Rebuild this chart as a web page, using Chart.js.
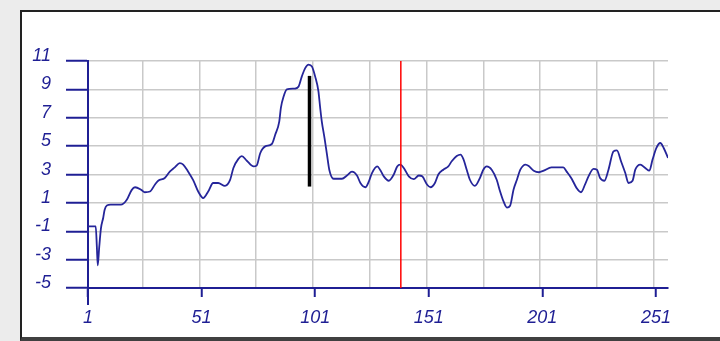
<!DOCTYPE html>
<html>
<head>
<meta charset="utf-8">
<script src="https://cdn.jsdelivr.net/npm/chart.js@4.4.1/dist/chart.umd.min.js"></script>
<style>
  html, body { margin: 0; padding: 0; background: #ececec; overflow: hidden; width: 720px; height: 341px; }
  #frame {
    position: absolute; left: 20px; top: 10px; width: 780px; height: 325px;
    background: #fff; border-left: 2px solid #222; border-top: 2px solid #222;
    border-bottom: 4px solid #404040;
  }
  #chart { position: absolute; left: 0; top: 0; }
</style>
</head>
<body>
<div id="frame"></div>
<canvas id="chart" width="720" height="341"></canvas>
<script>
// series (x = sample index, y = value)
const seriesX = [1, 4.4, 4.9, 5.3, 5.9, 6.7, 7.7, 8.3, 9.3, 11, 15.5, 18, 20.2, 21.7, 24.6, 26, 28.3, 30.5, 31.9, 34.8,
  37, 39.2, 41.4, 42.9, 45.1, 47.3, 49.5, 51.7, 53.9, 56.1, 58.3, 61.3, 63.5, 65, 67.2, 68.7, 70.9, 73.9, 75.3, 76.8,
  79, 81.9, 83.4, 85.2, 85.9, 87.1, 88.5, 92.2, 93.7, 95.1, 96.6, 98.1, 99.6, 101, 102.4, 103.2, 103.9, 105.1, 106.2, 107.2,
  109.1, 112.8, 115, 117.2, 119.4, 120.9, 123.1, 124.6, 126, 128.3, 129.7, 131.2, 133.4, 135.6, 137.1, 138.5, 140, 142.2, 144.4, 146.6,
  148.1, 150.3, 151.8, 153.7, 155.2, 157.4, 159.6, 161.1, 163.3, 165, 166.2, 167.7, 169.1, 171.3, 173.5, 175, 176.5, 178.7, 180.9, 182.4,
  183.9, 185.4, 186.8, 188.3, 189.8, 191.3, 193.6, 195, 197.2, 199.4, 201.6, 205, 210.2, 211.7, 213.9, 216.1, 218, 219.8, 221.3, 223.5,
  225, 226.4, 228.3, 230.1, 232.3, 233.8, 235.7, 237.5, 238.9, 240.7, 241.9, 244.1, 246.3, 248.1, 249.5, 251.2, 252.9, 254.4, 256.3];
const seriesY = [-0.65, -0.65, -2.1, -3.4, -2.2, -0.8, -0.05, 0.5, 0.82, 0.87, 0.87, 1.2, 1.9, 2.1, 1.9, 1.75, 1.8, 2.3, 2.56, 2.75,
  3.2, 3.5, 3.8, 3.7, 3.2, 2.6, 1.8, 1.34, 1.8, 2.4, 2.4, 2.2, 2.6, 3.46, 4.1, 4.3, 3.97, 3.57, 3.65, 4.5,
  4.98, 5.15, 5.8, 6.75, 7.7, 8.5, 9.0, 9.06, 9.2, 9.9, 10.5, 10.75, 10.6, 9.9, 8.9, 7.7, 6.75, 5.58, 4.4, 3.34,
  2.7, 2.7, 2.93, 3.2, 2.93, 2.4, 2.1, 2.5, 3.1, 3.57, 3.3, 2.87, 2.56, 3.0, 3.57, 3.7, 3.46, 2.87, 2.67, 2.93,
  2.87, 2.28, 2.1, 2.4, 3.0, 3.34, 3.57, 3.93, 4.3, 4.4, 4.1, 3.34, 2.63, 2.2, 2.75, 3.34, 3.57, 3.34, 2.63, 1.8,
  1.1, 0.67, 0.8, 1.93, 2.63, 3.34, 3.7, 3.6, 3.27, 3.16, 3.27, 3.5, 3.5, 3.2, 2.7, 2.04, 1.75, 2.3, 2.87, 3.4,
  3.34, 2.75, 2.56, 3.34, 4.63, 4.7, 3.9, 3.1, 2.4, 2.56, 3.34, 3.7, 3.46, 3.27, 4.05, 4.87, 5.22, 4.87, 4.17];

// black marker bar and red cursor line
const barX = 98.5;
const barY = [2.15, 9.95];
const cursorX = 138.7;

// axes
const xLabels = [1, 51, 101, 151, 201, 251];
const xGrid = [25, 50, 75, 100, 125, 150, 175, 200, 225, 250];
const yTicks = [-5, -3, -1, 1, 3, 5, 7, 9, 11];
const xMin = 1, xMax = 256.3, yMin = -5, yMax = 11;

const blue = "#1f1f94";
const gridGray = "#c9c9c9";
const tickFont = { family: "'Liberation Sans', Arial, sans-serif", size: 18, style: "italic" };

const xTickValues = xLabels.concat(xGrid).sort((a, b) => a - b);

// extends the y axis line below the x axis, like the original
const axisFoot = {
  id: "axisFoot",
  afterDraw(chart) {
    const { ctx, scales } = chart;
    const px = scales.x.getPixelForValue(xMin);
    const py = scales.y.getPixelForValue(yMin);
    ctx.save();
    ctx.strokeStyle = blue;
    ctx.lineWidth = 2;
    ctx.beginPath();
    ctx.moveTo(px, py);
    ctx.lineTo(px, py + 17);
    ctx.stroke();
    ctx.restore();
  }
};

new Chart(document.getElementById("chart"), {
  type: "line",
  data: {
    datasets: [
      {
        data: barY.map(v => ({ x: barX, y: v })),
        borderColor: "#000",
        borderWidth: 3.5,
        pointRadius: 0
      },
      {
        data: [{ x: cursorX, y: yMin }, { x: cursorX, y: yMax }],
        borderColor: "#ff0000",
        borderWidth: 1.5,
        pointRadius: 0
      },
      {
        data: seriesX.map((x, i) => ({ x: x, y: seriesY[i] })),
        borderColor: "#25259a",
        borderWidth: 1.8,
        pointRadius: 0,
        cubicInterpolationMode: "monotone"
      }
    ]
  },
  options: {
    responsive: false,
    animation: false,
    devicePixelRatio: 1,
    layout: { padding: { left: 0, top: 61, right: 52, bottom: 0 } },
    plugins: { legend: { display: false }, tooltip: { enabled: false } },
    scales: {
      x: {
        type: "linear",
        min: xMin,
        max: xMax,
        afterBuildTicks: (scale) => { scale.ticks = xTickValues.map(v => ({ value: v })); },
        afterFit: (scale) => { scale.height = 53; },
        ticks: {
          autoSkip: false,
          maxRotation: 0,
          minRotation: 0,
          padding: 10,
          color: blue,
          font: tickFont,
          callback: (v) => xLabels.includes(v) ? String(v) : ""
        },
        grid: {
          color: (c) => xGrid.includes(c.tick && c.tick.value) ? gridGray : "rgba(0,0,0,0)",
          tickColor: (c) => xLabels.includes(c.tick && c.tick.value) ? blue : "rgba(0,0,0,0)",
          lineWidth: 1.5,
          tickWidth: 2,
          tickLength: 9
        },
        border: { color: blue, width: 2 }
      },
      y: {
        type: "linear",
        min: yMin,
        max: yMax,
        afterBuildTicks: (scale) => { scale.ticks = yTicks.map(v => ({ value: v })); },
        afterFit: (scale) => { scale.width = 88; },
        ticks: {
          padding: 15,
          labelOffset: -5,
          color: blue,
          font: tickFont
        },
        grid: {
          color: gridGray,
          tickColor: blue,
          lineWidth: 1.5,
          tickWidth: 2,
          tickLength: 22
        },
        border: { color: blue, width: 2 }
      }
    }
  },
  plugins: [axisFoot]
});
</script>
</body>
</html>
